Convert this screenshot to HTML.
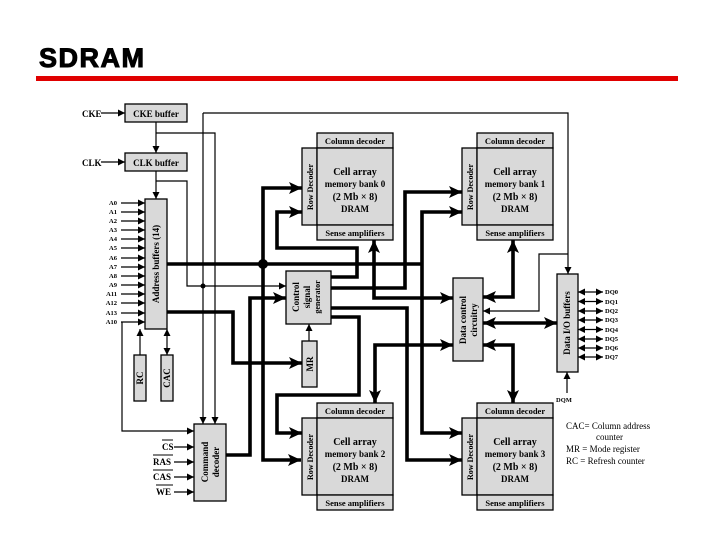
<!DOCTYPE html>
<html><head><meta charset="utf-8"><style>
html,body{margin:0;padding:0;background:#fff;}
svg{display:block;}
text{font-family:"Liberation Serif",serif;font-weight:bold;fill:#000;}
</style></head><body>
<svg width="720" height="540" viewBox="0 0 720 540" xmlns="http://www.w3.org/2000/svg">
<defs>
<marker id="a" markerUnits="userSpaceOnUse" markerWidth="8" markerHeight="8" refX="7" refY="4" orient="auto-start-reverse"><path d="M0,0.5 L7,4 L0,7.5 z" fill="#000"/></marker>
<marker id="b" markerUnits="userSpaceOnUse" markerWidth="14" markerHeight="14" refX="13" refY="7" orient="auto-start-reverse"><path d="M0,1 L13,7 L0,13 L3,7 z" fill="#000"/></marker>
</defs>
<text x="39" y="67" style="font-family:'Liberation Sans',sans-serif;font-weight:bold;font-size:27px;letter-spacing:1.5px;stroke:#000;stroke-width:1">SDRAM</text>
<rect x="36" y="76" width="642" height="5" fill="#e00000"/>

<g fill="#d9d9d9" stroke="#000" stroke-width="1.3">
<rect x="125" y="104" width="62" height="18"/>
<rect x="125" y="153" width="62" height="18"/>
<rect x="145" y="199" width="22" height="130"/>
<rect x="134" y="355" width="12" height="46"/>
<rect x="161" y="355" width="12" height="46"/>
<rect x="194" y="424" width="32" height="77"/>
<rect x="286" y="271" width="45" height="53"/>
<rect x="302" y="341" width="15" height="46"/>
<rect x="453" y="278" width="30" height="83"/>
<rect x="557" y="274" width="21" height="98"/>
<rect x="302" y="148" width="15" height="77"/><rect x="317" y="133" width="76" height="15"/><rect x="317" y="148" width="76" height="77"/><rect x="317" y="225" width="76" height="15"/>
<rect x="462" y="148" width="15" height="77"/><rect x="477" y="133" width="76" height="15"/><rect x="477" y="148" width="76" height="77"/><rect x="477" y="225" width="76" height="15"/>
<rect x="302" y="418" width="15" height="77"/><rect x="317" y="403" width="76" height="15"/><rect x="317" y="418" width="76" height="77"/><rect x="317" y="495" width="76" height="15"/>
<rect x="462" y="418" width="15" height="77"/><rect x="477" y="403" width="76" height="15"/><rect x="477" y="418" width="76" height="77"/><rect x="477" y="495" width="76" height="15"/>
</g>

<g fill="none" stroke="#000" stroke-width="1.2">
<path d="M101,113 H125" marker-end="url(#a)"/>
<path d="M101,162 H125" marker-end="url(#a)"/>
<path d="M156,122 V153" marker-end="url(#a)"/>
<path d="M156,171 V199" marker-end="url(#a)"/>
<path d="M156,133 H215 V424" marker-end="url(#a)"/>
<path d="M203,113 V424" marker-end="url(#a)"/>
<path d="M203,113 H568 V274" marker-end="url(#a)"/>
<path d="M156,181 H187 V286 H286" marker-end="url(#a)"/>
<path d="M122,322 V431 H194" marker-end="url(#a)"/>
<path d="M140,355 V329" marker-end="url(#a)"/>
<path d="M167,355 V329" marker-start="url(#a)" marker-end="url(#a)"/>
<path d="M174,447 H194" marker-end="url(#a)"/>
<path d="M174,462 H194" marker-end="url(#a)"/>
<path d="M174,477 H194" marker-end="url(#a)"/>
<path d="M174,492 H194" marker-end="url(#a)"/>
<path d="M309,341 V324" marker-end="url(#a)"/>
<path d="M483,311 H539 V254 H568" marker-start="url(#a)"/>
<path d="M567,393 V372" marker-end="url(#a)"/>
<g marker-end="url(#a)">
<path d="M121,203 H145"/><path d="M121,212 H145"/><path d="M121,221 H145"/><path d="M121,230 H145"/><path d="M121,239 H145"/><path d="M121,248 H145"/><path d="M121,258 H145"/><path d="M121,267 H145"/><path d="M121,276 H145"/><path d="M121,285 H145"/><path d="M121,294 H145"/><path d="M121,303 H145"/><path d="M121,313 H145"/><path d="M121,322 H145"/>
</g>
<g marker-start="url(#a)" marker-end="url(#a)">
<path d="M578,292 H603"/><path d="M578,301.5 H603"/><path d="M578,311 H603"/><path d="M578,320 H603"/><path d="M578,329.5 H603"/><path d="M578,339 H603"/><path d="M578,348 H603"/><path d="M578,357 H603"/>
</g>
</g>
<circle cx="203" cy="286" r="2.5"/>

<g fill="none" stroke="#000" stroke-width="3.6" stroke-linejoin="miter">
<path d="M167,264 H422"/>
<path d="M167,312 H233 V363 H302" marker-end="url(#b)"/>
<path d="M302,188 H263 V460 H301" marker-start="url(#b)" marker-end="url(#b)"/>
<path d="M462,212 H422 V433 H462" marker-start="url(#b)" marker-end="url(#b)"/>
<path d="M331,277 H357 V248 H277 V212 H302" marker-end="url(#b)"/>
<path d="M331,288 H405 V192 H462" marker-end="url(#b)"/>
<path d="M331,308 H407 V460 H462" marker-end="url(#b)"/>
<path d="M331,317 H359 V395 H277 V433 H302" marker-end="url(#b)"/>
<path d="M226,455 H250 V298 H286" marker-end="url(#b)"/>
<path d="M374,240 V298 H453" marker-start="url(#b)" marker-end="url(#b)"/>
<path d="M453,345 H375 V403" marker-start="url(#b)" marker-end="url(#b)"/>
<path d="M513,240 V297 H483" marker-start="url(#b)" marker-end="url(#b)"/>
<path d="M483,345 H513 V403" marker-start="url(#b)" marker-end="url(#b)"/>
<path d="M483,323 H557" marker-start="url(#b)" marker-end="url(#b)"/>
</g>
<circle cx="263" cy="264" r="5"/>

<g font-size="9">
<text x="82" y="117">CKE</text>
<text x="82" y="166">CLK</text>
<text x="156" y="117" text-anchor="middle">CKE buffer</text>
<text x="156" y="166" text-anchor="middle">CLK buffer</text>
</g>
<g font-size="6.5" text-anchor="end">
<text x="117" y="205">A0</text><text x="117" y="214">A1</text><text x="117" y="223">A2</text><text x="117" y="232">A3</text><text x="117" y="241">A4</text><text x="117" y="250">A5</text><text x="117" y="260">A6</text><text x="117" y="269">A7</text><text x="117" y="278">A8</text><text x="117" y="287">A9</text><text x="117" y="296">A11</text><text x="117" y="305">A12</text><text x="117" y="315">A13</text><text x="117" y="324">A10</text>
</g>
<g font-size="6.5">
<text x="605" y="294">DQ0</text><text x="605" y="304">DQ1</text><text x="605" y="313">DQ2</text><text x="605" y="322">DQ3</text><text x="605" y="332">DQ4</text><text x="605" y="341">DQ5</text><text x="605" y="350">DQ6</text><text x="605" y="359">DQ7</text>
<text x="556" y="402">DQM</text>
</g>
<g font-size="9" text-anchor="middle">
<text transform="translate(159,264) rotate(-90)">Address buffers (14)</text>
<text transform="translate(143,378) rotate(-90)">RC</text>
<text transform="translate(170,378) rotate(-90)">CAC</text>
<text transform="translate(313,364) rotate(-90)">MR</text>
<text transform="translate(208,462) rotate(-90)">Command</text>
<text transform="translate(219,462) rotate(-90)">decoder</text>
<text transform="translate(299,297) rotate(-90)">Control</text>
<text transform="translate(310,297) rotate(-90)">signal</text>
<text transform="translate(320,297) rotate(-90)" font-size="8">generator</text>
<text transform="translate(466,320) rotate(-90)">Data control</text>
<text transform="translate(477,320) rotate(-90)">circuitry</text>
<text transform="translate(570,323) rotate(-90)">Data I/O buffers</text>
<text transform="translate(313,187) rotate(-90)" font-size="8">Row Decoder</text>
<text transform="translate(473,187) rotate(-90)" font-size="8">Row Decoder</text>
<text transform="translate(313,457) rotate(-90)" font-size="8">Row Decoder</text>
<text transform="translate(473,457) rotate(-90)" font-size="8">Row Decoder</text>
</g>
<g font-size="8.5" text-anchor="middle">
<text x="355" y="144">Column decoder</text><text x="355" y="236">Sense amplifiers</text>
<text x="515" y="144">Column decoder</text><text x="515" y="236">Sense amplifiers</text>
<text x="355" y="414">Column decoder</text><text x="355" y="506">Sense amplifiers</text>
<text x="515" y="414">Column decoder</text><text x="515" y="506">Sense amplifiers</text>
</g>
<g font-size="10" text-anchor="middle">
<text x="355" y="175">Cell array</text><text x="355" y="187" font-size="9">memory bank 0</text><text x="355" y="200">(2 Mb × 8)</text><text x="355" y="212" font-size="9">DRAM</text>
<text x="515" y="175">Cell array</text><text x="515" y="187" font-size="9">memory bank 1</text><text x="515" y="200">(2 Mb × 8)</text><text x="515" y="212" font-size="9">DRAM</text>
<text x="355" y="445">Cell array</text><text x="355" y="457" font-size="9">memory bank 2</text><text x="355" y="470">(2 Mb × 8)</text><text x="355" y="482" font-size="9">DRAM</text>
<text x="515" y="445">Cell array</text><text x="515" y="457" font-size="9">memory bank 3</text><text x="515" y="470">(2 Mb × 8)</text><text x="515" y="482" font-size="9">DRAM</text>
</g>
<g font-size="9">
<text x="566" y="429" style="font-weight:normal">CAC= Column address</text>
<text x="596" y="440" style="font-weight:normal">counter</text>
<text x="566" y="452" style="font-weight:normal">MR = Mode register</text>
<text x="566" y="464" style="font-weight:normal">RC = Refresh counter</text>
</g>
<g font-size="9">
<text x="162" y="450">CS</text><text x="153" y="465">RAS</text><text x="153" y="480">CAS</text><text x="156" y="495">WE</text>
</g>
<g stroke="#000" stroke-width="0.9">
<path d="M162,440 H173 M153,455 H173 M153,470 H173 M156,485 H173"/>
</g>
</svg>
</body></html>
